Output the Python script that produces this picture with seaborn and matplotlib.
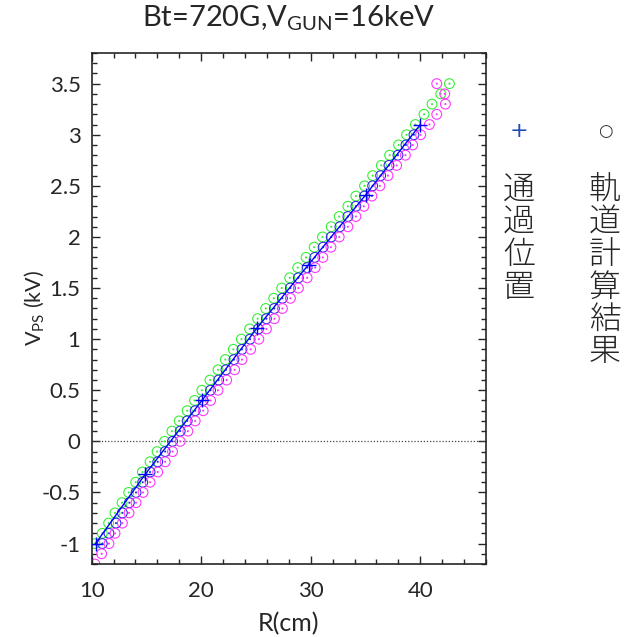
import numpy as np
import pandas as pd
import seaborn as sns
import matplotlib.pyplot as plt
from matplotlib.ticker import MultipleLocator, FuncFormatter

# orbit calculation results (three sets of circles), V in kV, R in cm
green_V = [round(-1.0 + 0.1 * i, 1) for i in range(46)]
green_R = [10.30, 10.97, 11.55, 12.13, 12.77, 13.38, 14.02, 14.63, 15.33, 15.97,
           16.65, 17.32, 17.99, 18.72, 19.39, 20.06, 20.80, 21.53, 22.20, 22.93,
           23.67, 24.42, 25.15, 25.89, 26.62, 27.35, 28.08, 28.81, 29.57, 30.31,
           31.07, 31.87, 32.60, 33.39, 34.12, 34.91, 35.65, 36.44, 37.20, 38.02,
           38.75, 39.55, 40.34, 41.07, 41.87, 42.66]

blue_V = [round(-1.0 + 0.1 * i, 1) for i in range(41)]
blue_R = [10.97, 11.58, 12.22, 12.80, 13.44, 14.05, 14.66, 15.33, 16.03, 16.71,
          17.38, 18.08, 18.72, 19.45, 20.18, 20.85, 21.59, 22.26, 22.99, 23.72,
          24.46, 25.22, 25.95, 26.68, 27.41, 28.14, 28.87, 29.67, 30.37, 31.13,
          31.87, 32.66, 33.39, 34.12, 34.91, 35.65, 36.38, 37.14, 37.96, 38.69,
          39.42]

magenta_V = [round(-1.2 + 0.1 * i, 1) for i in range(48)]
magenta_R = [10.30, 10.91, 11.58, 12.13, 12.80, 13.41, 14.05, 14.69, 15.33, 16.03,
             16.71, 17.38, 18.08, 18.78, 19.45, 20.18, 20.85, 21.53, 22.32, 23.05,
             23.72, 24.51, 25.26, 25.95, 26.68, 27.41, 28.14, 28.87, 29.67, 30.40,
             31.10, 31.84, 32.60, 33.39, 34.12, 34.85, 35.58, 36.31, 37.05, 37.84,
             38.64, 39.30, 40.03, 40.83, 41.50, 42.29, 42.23, 41.50]

# measured passage positions
pass_R = [10.35, 14.9, 20.06, 25.1, 29.8, 35.0, 40.0]
pass_V = [-1.0, -0.32, 0.40, 1.11, 1.73, 2.41, 3.10]

calc = pd.concat([
    pd.DataFrame({'R': green_R, 'V': green_V, 'series': 'green'}),
    pd.DataFrame({'R': blue_R, 'V': blue_V, 'series': 'blue'}),
    pd.DataFrame({'R': magenta_R, 'V': magenta_V, 'series': 'magenta'}),
])
colors = {'green': '#33ee33', 'blue': '#2a2ae0', 'magenta': '#ff33ff'}

sns.set_style('ticks')
plt.rcParams['font.family'] = ['Lato', 'DejaVu Sans']
plt.rcParams['mathtext.default'] = 'regular'

fig = plt.figure(figsize=(6.38, 6.37), dpi=100)
ax = fig.add_axes([0.1437, 0.1146, 0.6181, 0.8022])

ax.axhline(0, color='#444444', ls=(0, (1, 1.5)), lw=0.9, zorder=1)
sns.scatterplot(data=calc, x='R', y='V', hue='series', palette=colors,
                marker=r'$\odot$', s=62, linewidth=0, legend=False, ax=ax, zorder=2)
sns.lineplot(x=pass_R, y=pass_V, sort=False, color='#0000ff', lw=1.0,
             marker='+', markersize=10, markeredgewidth=1.0,
             markeredgecolor='#0000ff', ax=ax, zorder=3)

ax.set_xlim(10, 46)
ax.set_ylim(-1.2, 3.8)
ax.xaxis.set_major_locator(MultipleLocator(10))
ax.xaxis.set_minor_locator(MultipleLocator(2))
ax.yaxis.set_major_locator(MultipleLocator(0.5))
ax.yaxis.set_minor_locator(MultipleLocator(0.1))


def fmt(v, pos):
    v = round(v, 2)
    if v == 0:
        return '0'
    return f'{v:g}'


ax.yaxis.set_major_formatter(FuncFormatter(fmt))
ax.tick_params(which='both', direction='in', top=True, right=True,
               labelsize=16, width=1)
ax.tick_params(which='major', length=6)
ax.tick_params(which='minor', length=3.5)
ax.tick_params(axis='x', pad=12)
ax.tick_params(axis='y', pad=8)
for sp in ax.spines.values():
    sp.set_linewidth(1.2)

ax.set_xlabel('R(cm)', fontsize=18, labelpad=8)
ax.set_ylabel('V$_{PS}$ (kV)', fontsize=15.5)
ax.yaxis.set_label_coords(-0.115, 0.5)

fig.text(0.453, 0.972, 'Bt=720G,V$_{GUN}$=16keV', fontsize=21,
         ha='center', va='center')

# legend drawn as vertical text on the right
fig.text(519 / 638, 1 - 131 / 637, '+', color='#1f4fb5', fontsize=16,
         ha='center', va='center', family=['DejaVu Sans'])
fig.text(605 / 638, 1 - 131 / 637, '○', color='#333333', fontsize=12,
         ha='center', va='center', family=['DejaVu Sans'])
fig.text(519 / 638, 1 - 173 / 637, '\n'.join('通過位置'), fontsize=23,
         ha='center', va='top', linespacing=0.92,
         family=['Noto Sans CJK JP', 'DejaVu Sans'], fontweight='light')
fig.text(605 / 638, 1 - 173 / 637, '\n'.join('軌道計算結果'), fontsize=23,
         ha='center', va='top', linespacing=0.92,
         family=['Noto Sans CJK JP', 'DejaVu Sans'], fontweight='light')

fig.savefig('out.png', dpi=100)
